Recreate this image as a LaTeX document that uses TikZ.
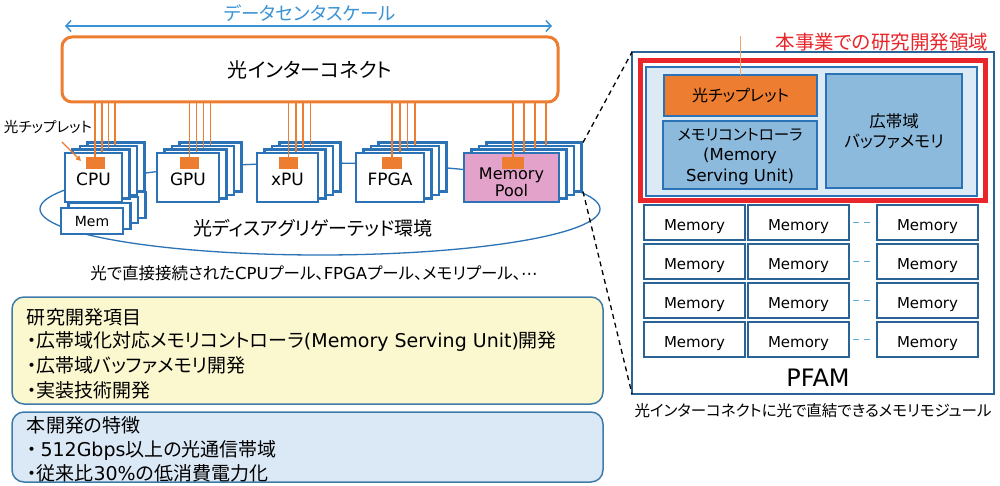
\documentclass[tikz,border=0pt]{standalone}
\usepackage{fontspec}
\setmainfont{Noto Sans CJK JP}[RawFeature=+palt]
\newfontfamily\jpn{Noto Sans CJK JP}
\newfontfamily\lt{DejaVu Sans}
\usetikzlibrary{arrows.meta}
\definecolor{bx}{HTML}{2B73B6}
\definecolor{dk}{HTML}{2A6496}
\definecolor{org}{HTML}{ED7D31}
\definecolor{lorg}{HTML}{F4A46E}
\definecolor{pnk}{HTML}{E3A2C9}
\definecolor{ttl}{HTML}{3A93D4}
\definecolor{rd}{HTML}{E8262B}
\definecolor{lb}{HTML}{DCEAF6}
\definecolor{mb}{HTML}{8CBADD}
\definecolor{yl}{HTML}{FBF7CF}
\definecolor{bl}{HTML}{DBE8F5}
\definecolor{tb}{HTML}{3F7BAA}
\definecolor{dsh}{HTML}{5BA9DD}
\tikzset{
  every node/.style={inner sep=0pt, outer sep=0pt},
  fs/.style 2 args={font=\fontsize{#1}{#2}\selectfont},
  bk/.style={draw=bx, line width=2.2pt, fill=white},
  ol/.style={draw=org, line width=1.7pt},
  chip/.style={fill=org, draw=none, minimum height=12},
  box/.style={draw=bx, line width=2.2pt, anchor=north west},
  tbox/.style={line width=1.5pt, draw=tb, rounded corners=12pt, anchor=north west},
  tline/.style={fs={19}{23}, anchor=west},
  mem/.style={draw=dk, line width=1.8pt, fill=white, minimum width=101, minimum height=35,
              anchor=north west, fs={15}{18}, text height=15pt, text depth=0pt},
  ibox/.style={draw=bx, line width=1.3pt, anchor=north west},
  gdash/.style={draw=dsh, line width=1.6pt, dash pattern=on 6pt off 5pt},
  blk/.style={draw=black, line width=1.3pt, dash pattern=on 5pt off 4pt}
}
\begin{document}
\begin{tikzpicture}[x=1pt,y=-1pt]
\fill[white] (0,0) rectangle (1000,486);
\useasboundingbox (0,0) rectangle (1000,486);

% ---- top scale arrow
\node[fs={18.5}{22}, text=ttl] (dcs) at (310,13) {データセンタスケール};
\coordinate (dcl) at (65,26);
\coordinate (dcr) at (552,26);
\draw[ttl, line width=1.5pt, {Straight Barb[length=5pt,width=11pt]}-{Straight Barb[length=5pt,width=11pt]}] (dcl) -- (dcr);

% ---- interconnect
\node[draw=org, line width=3pt, rounded corners=10pt, fill=white, minimum width=496, minimum height=65,
      anchor=north west, fs={20}{24}] (ic) at (62,37) {光インターコネクト};

% ---- ellipse (behind boxes)
\draw[bx, line width=1.3pt] (320,209) ellipse [x radius=280, y radius=46];

% ---- Mem stack (back)
\foreach \k in {3,2,1} {
  \draw[bk] ({61+7.5*\k},{208-5.3*\k}) rectangle ++(62,26);
}

% ---- component stacks
\foreach \xa/\w/\lx/\ls/\nm/\fl/\cw in {65/57/95/6.7/cpu/white/19, 157/62/189.5/7/gpu/white/19,
   257/61/288.5/7.3/xpu/white/19, 356/68/392/7.7/fpga/white/20, 464/95/513/11/mp/pnk/22} {
  \foreach \k in {3,2,1} {
    \draw[bk] ({\xa+7.5*\k},{153-3.5*\k}) rectangle ++(\w,49);
    \draw[ol] ({\lx+\ls*\k},103.5) -- ({\lx+\ls*\k},{153-3.5*(\k-1)});
  }
  \node[box, fill=\fl, minimum width=\w, minimum height=49] (\nm) at (\xa,153) {};
  \node[chip, minimum width=\cw] (\nm-c) at (\lx,163) {};
  \draw[ol] (\lx,103.5) -- (\nm-c.north);
}

\node[box, fill=white, minimum width=62, minimum height=26] (mem) at (61,208) {};
\node[fs={14}{16}] (memt) at (92,221) {\lt Mem};

\node[fs={17}{20}] (cput) at (93.5,179.5) {\lt CPU};
\node[fs={17}{20}] (gput) at (188,179.5) {\lt GPU};
\node[fs={17}{20}] (xput) at (287.5,179.5) {\lt xPU};
\node[fs={17}{20}] (fpgat) at (390,179) {\lt FPGA};
\node[fs={16}{15}, align=center] (mpt) at (511.5,182.5) {\lt Memory\\\lt Pool};

% ---- chiplet label
\node[fs={14.5}{17}, anchor=west] (cl) at (4,127) {光チップレット};
\coordinate (cla) at (62,142);
\coordinate (clb) at (81,161);
\draw[org, line width=1.3pt, -{Triangle[length=5pt,width=5pt]}] (cla) -- (clb);

\node[fs={19}{22}] (env) at (313,228) {光ディスアグリゲーテッド環境};
\node[fs={16.5}{20}] (pooltxt) at (314,273) {光で直接接続された{\lt CPU}プール、{\lt FPGA}プール、メモリプール、{\lt ⋯}};

% ---- text boxes
\node[tbox, fill=yl, minimum width=591, minimum height=107] (rdbox) at (12,297) {};
\node[tline] (r1) at (27,317) {研究開発項目};
\node[tline] (r2) at (27,341) {・広帯域化対応メモリコントローラ{\lt (Memory Serving Unit)}開発};
\node[tline] (r3) at (27,365) {・広帯域バッファメモリ開発};
\node[tline] (r4) at (27,390) {・実装技術開発};

\node[tbox, fill=bl, minimum width=591, minimum height=70] (ftbox) at (12,412) {};
\node[tline] (f1) at (27,425) {本開発の特徴};
\node[tline] (f2) at (27,450) {・\kern4pt{\lt 512Gbps}以上の光通信帯域};
\node[tline] (f3) at (27,473) {・従来比{\lt 30\%}の低消費電力化};

% ---- PFAM
\node[draw=dk, line width=2pt, fill=white, minimum width=362, minimum height=342, anchor=north west] (pfam) at (632,52) {};
\node[draw=rd, line width=5pt, minimum width=345.5, minimum height=140, anchor=north west] (rdarea) at (640,60.5) {};
\node[draw=bx, line width=1.5pt, fill=lb, minimum width=331, minimum height=129, anchor=north west] (inner) at (646,67) {};
\node[ibox, fill=org, minimum width=153, minimum height=41, fs={16}{19}] (och) at (664,75) {光チップレット};
\node[ibox, fill=mb, minimum width=154, minimum height=68] (msu) at (663,121) {};
\node[fs={15.5}{18}] (msu1) at (740,135) {メモリコントローラ};
\node[fs={16.5}{19}] (msu2) at (740,156) {\lt (Memory};
\node[fs={16.5}{19}] (msu3) at (740,177) {\lt Serving Unit)};
\node[ibox, fill=mb, minimum width=136, minimum height=114, fs={16.5}{20}, align=center] (buf) at (826,74) {広帯域\\バッファメモリ};
\draw[lorg, line width=1.8pt] (och.north) -- ++(0,-39);
\node[fs={19.5}{23}, text=rd, anchor=east] (rdl) at (988,42) {本事業での研究開発領域};

\foreach \r/\yy in {1/205,2/244,3/283,4/322} {
  \foreach \c/\xx in {1/644,2/748,3/877} {
    \node[mem] (m\r\c) at (\xx,\yy) {\lt Memory};
  }
  \draw[gdash] ([xshift=4pt]m\r2.east) -- ([xshift=-5pt]m\r3.west);
}
\node[fs={24}{28}] (pfl) at (818,378) {\lt PFAM};
\node[fs={15.5}{19}] (cap) at (813,411) {光インターコネクトに光で直結できるメモリモジュール};

% ---- dashed zoom lines
\coordinate (mptr) at (583,142.5);
\coordinate (mpbr) at (583,191.5);
\draw[blk] (mptr) -- (pfam.north west);
\draw[blk] (mpbr) -- (pfam.south west);
\end{tikzpicture}
\end{document}
